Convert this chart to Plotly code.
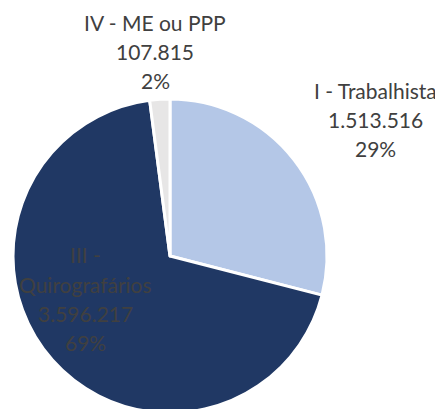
import plotly.graph_objects as go

labels = ["I - Trabalhista", "III - Quirografários", "IV - ME ou PPP"]
values = [1513516, 3596217, 107815]
value_text = ["1.513.516", "3.596.217", "107.815"]
pct_text = ["29%", "69%", "2%"]
label_lines = [["I - Trabalhista"], ["III -", "Quirografários"], ["IV - ME ou PPP"]]
colors = ["#B4C7E7", "#203864", "#E7E6E6"]

W, H = 443, 409
OFF = 8  # page body margin offset
cx, cy, r = 170 - OFF, 256 - OFF, 157

fig = go.Figure(go.Pie(
    labels=labels, values=values, sort=False, direction="clockwise", rotation=0,
    marker=dict(colors=colors, line=dict(color="white", width=3)),
    textinfo="none", hoverinfo="label+value+percent", showlegend=False,
    domain=dict(x=[(cx - r) / W, (cx + r) / W], y=[(H - cy - r) / H, (H - cy + r) / H]),
))

# label anchor positions (pixels from top-left of the page): x center, y of first line
label_pos = [(375, 90), (85, 255), (155, 22)]
line_gap = 29.3
for i, (x, y0) in enumerate(label_pos):
    lines = label_lines[i] + [value_text[i], pct_text[i]]
    for j, t in enumerate(lines):
        fig.add_annotation(
            x=(x - OFF) / W, y=1 - (y0 - OFF + j * line_gap) / H, xref="paper", yref="paper",
            text=t, showarrow=False, xanchor="center", yanchor="middle",
            font=dict(family="Lato, Open Sans, sans-serif", size=21, color="#404040"),
        )

fig.update_layout(
    width=W, height=H, margin=dict(l=0, r=0, t=0, b=0),
    paper_bgcolor="white", plot_bgcolor="white",
)
fig.write_html("out.html")
